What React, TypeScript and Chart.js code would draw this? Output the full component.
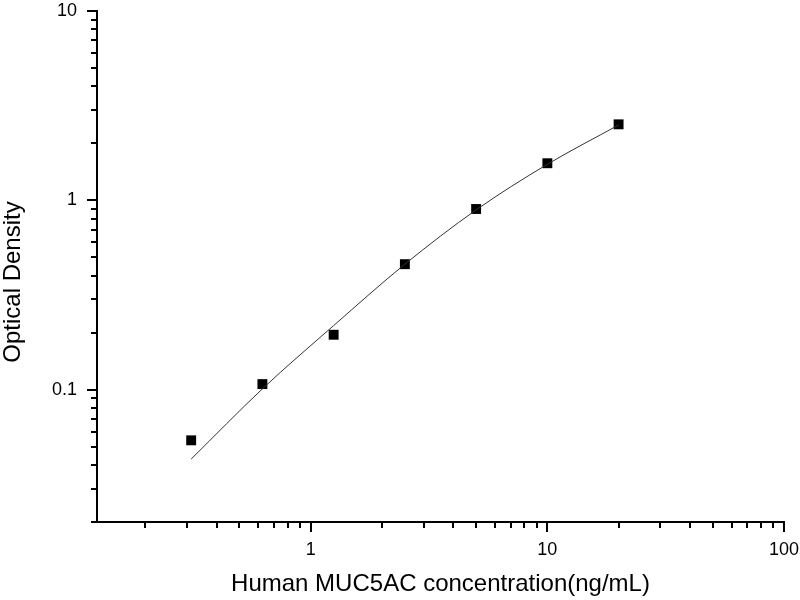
import React, { useEffect, useRef } from "react";
import { Chart, registerables } from "chart.js";

Chart.register(...registerables);

const concentrations = [0.3125, 0.625, 1.25, 2.5, 5, 10, 20];
const opticalDensity = [0.054, 0.107, 0.195, 0.46, 0.9, 1.57, 2.52];
const fitX = [0.3125, 0.625, 1.25, 2.5, 5, 10, 20];
const fitY = [0.043, 0.101, 0.218, 0.46, 0.89, 1.55, 2.5];
const xTickValues = [0.2, 0.3, 0.4, 0.5, 0.6, 0.7, 0.8, 0.9, 1, 2, 3, 4, 5, 6, 7, 8, 9, 10, 20, 30, 40, 50, 60, 70, 80, 90, 100];
const yTickValues = [0.02, 0.03, 0.04, 0.05, 0.06, 0.07, 0.08, 0.09, 0.1, 0.2, 0.3, 0.4, 0.5, 0.6, 0.7, 0.8, 0.9, 1, 2, 3, 4, 5, 6, 7, 8, 9, 10];
const majorLabels: Record<string, string> = { "0.1": "0.1", "1": "1", "10": "10", "100": "100" };
const yTitle = "Optical Density";
const xTitle = "Human MUC5AC concentration(ng/mL)";

const FONT = "'Liberation Sans', Arial, sans-serif";

const tickPlugin = {
  id: "customTicks",
  afterDraw(chart: any) {
    const ctx = chart.ctx;
    ctx.save();
    ctx.strokeStyle = "#000";
    ctx.lineWidth = 2;
    const xs = chart.scales.x;
    const ys = chart.scales.y;
    for (const t of xs.ticks) {
      const p = Math.round(xs.getPixelForValue(t.value));
      const len = majorLabels[String(t.value)] ? 10 : 6;
      ctx.beginPath();
      ctx.moveTo(p, xs.top);
      ctx.lineTo(p, xs.top + len);
      ctx.stroke();
    }
    for (const t of ys.ticks) {
      const p = Math.round(ys.getPixelForValue(t.value));
      const len = majorLabels[String(t.value)] ? 10 : 6;
      ctx.beginPath();
      ctx.moveTo(ys.right, p);
      ctx.lineTo(ys.right - len, p);
      ctx.stroke();
    }
    // y axis title
    ctx.fillStyle = "#000";
    ctx.font = `24px ${FONT}`;
    ctx.textAlign = "center";
    ctx.textBaseline = "middle";
    ctx.translate(13, 282);
    ctx.rotate(-Math.PI / 2);
    ctx.fillText(yTitle, 0, 0);
    ctx.restore();
  },
};

export default function App() {
  const ref = useRef<HTMLCanvasElement | null>(null);
  useEffect(() => {
    if (!ref.current) return;
    const chart = new Chart(ref.current, {
      type: "scatter",
      data: {
        datasets: [
          {
            type: "line",
            data: fitX.map((x, i) => ({ x, y: fitY[i] })),
            borderColor: "#333",
            borderWidth: 1,
            pointRadius: 0,
            cubicInterpolationMode: "monotone",
            fill: false,
          } as any,
          {
            data: concentrations.map((x, i) => ({ x, y: opticalDensity[i] })),
            backgroundColor: "#000",
            borderColor: "#000",
            pointStyle: "rect",
            pointRadius: 7,
            borderWidth: 0,
          },
        ],
      },
      options: {
        animation: false,
        responsive: false,
        devicePixelRatio: 1,
        layout: { padding: { top: 11, right: 16, left: 0, bottom: 0 } },
        plugins: { legend: { display: false }, tooltip: { enabled: false } },
        scales: {
          x: {
            type: "logarithmic",
            min: 0.125,
            max: 100,
            afterBuildTicks: (s: any) => {
              s.ticks = xTickValues.map((v) => ({ value: v }));
            },
            afterFit: (s: any) => {
              s.height = 78;
              s.paddingLeft = 0;
              s.paddingRight = 0;
            },
            grid: { display: false },
            border: { display: true, color: "#000", width: 2 },
            ticks: {
              autoSkip: false,
              maxRotation: 0,
              padding: 9,
              color: "#000",
              font: { family: FONT, size: 18 },
              callback: (v: any) => majorLabels[String(v)] ?? "",
            },
            title: {
              display: true,
              text: xTitle,
              color: "#000",
              font: { family: FONT, size: 24 },
              padding: { top: 0, bottom: 1 },
            },
          },
          y: {
            type: "logarithmic",
            min: 0.02,
            max: 10,
            afterBuildTicks: (s: any) => {
              s.ticks = yTickValues.map((v) => ({ value: v }));
            },
            afterFit: (s: any) => {
              s.width = 97;
              s.paddingTop = 0;
              s.paddingBottom = 0;
            },
            grid: { display: false },
            border: { display: true, color: "#000", width: 2 },
            ticks: {
              autoSkip: false,
              padding: 12,
              color: "#000",
              font: { family: FONT, size: 18 },
              callback: (v: any) => majorLabels[String(v)] ?? "",
            },
          },
        },
      },
      plugins: [tickPlugin],
    } as any);
    return () => chart.destroy();
  }, []);
  return (
    <div style={{ position: "absolute", left: 0, top: 0, width: 800, height: 600, background: "#fff" }}>
      <canvas ref={ref} width={800} height={600} />
    </div>
  );
}
